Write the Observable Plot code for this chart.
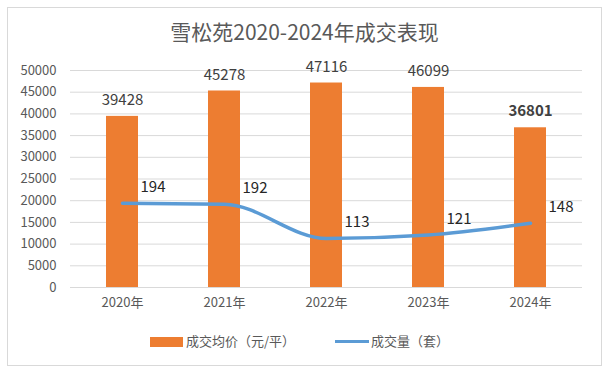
<!DOCTYPE html>
<html><head><meta charset="utf-8">
<script src="https://cdn.jsdelivr.net/npm/d3@7"></script>
<script src="https://cdn.jsdelivr.net/npm/@observablehq/plot@0.6"></script>
<style>
body{margin:0;background:#fff;font-family:"Noto Sans CJK SC","Noto Sans",sans-serif;}
#frame{position:absolute;left:7px;top:7px;width:595px;height:359px;border:1px solid #d9d9d9;box-sizing:border-box;}
#title{position:absolute;left:0;top:16px;width:609px;text-align:center;font-size:21px;color:#595959;}
#chart{position:absolute;left:0;top:39px;}
#legend{position:absolute;left:0;top:331px;width:609px;font-size:13px;color:#595959;}
.sw{position:absolute;}
</style></head>
<body>
<div id="frame"></div>
<div id="title">雪松苑2020-2024年成交表现</div>
<div id="chart"></div>
<div id="legend">
  <div class="sw" style="left:150px;top:6px;width:33px;height:10px;background:#ED7D31"></div>
  <div class="sw" style="left:186px;top:0px;">成交均价（元/平）</div>
  <div class="sw" style="left:335px;top:9px;width:34px;height:3px;background:#5B9BD5"></div>
  <div class="sw" style="left:371px;top:0px;">成交量（套）</div>
</div>
<script>
const years = ["2020年","2021年","2022年","2023年","2024年"];
const avgPrice = [39428, 45278, 47116, 46099, 36801];
const volume = [194, 192, 113, 121, 148];
const yTicks = [0,5000,10000,15000,20000,25000,30000,35000,40000,45000,50000];

const data = years.map((y,i)=>({year:y, price:avgPrice[i], vol:volume[i], volPlot:volume[i]*100, last:i===years.length-1}));

const plot = Plot.plot({
  width: 609,
  height: 278,
  marginLeft: 70,
  marginRight: 27,
  marginTop: 31,
  marginBottom: 30,
  style:{fontFamily:'"Noto Sans CJK SC","Noto Sans",sans-serif', fontSize:"13px", color:"#595959", background:"transparent", overflow:"visible"},
  x:{domain:years, paddingInner:0.69, paddingOuter:0.345, label:null},
  y:{domain:[0,50000], ticks:yTicks, label:null},
  marks:[
    Plot.ruleY(yTicks, {stroke:"#d9d9d9", strokeWidth:1}),
    Plot.axisY({ticks:yTicks, tickSize:0, tickPadding:14, tickFormat:d=>String(d), fontSize:13, label:null}),
    Plot.axisX({tickSize:0, tickPadding:10, fontSize:13, label:null}),
    Plot.barY(data, {x:"year", y:"price", fill:"#ED7D31"}),
    Plot.text(data.filter(d=>!d.last), {x:"year", y:"price", text:d=>String(d.price), dy:-16, fontSize:15, fill:"#404040"}),
    Plot.text(data.filter(d=>d.last), {x:"year", y:"price", text:d=>String(d.price), dy:-17, fontSize:15, fontWeight:"bold", fill:"#404040"}),
    Plot.line(data, {x:"year", y:"volPlot", stroke:"#5B9BD5", strokeWidth:3.5, curve:"monotone-x"}),
    Plot.text(data, {x:"year", y:"volPlot", text:d=>String(d.vol), dx:18, dy:-16, textAnchor:"start", fontSize:15, fill:"#262626"})
  ]
});
document.getElementById("chart").appendChild(plot);
</script>
</body></html>
